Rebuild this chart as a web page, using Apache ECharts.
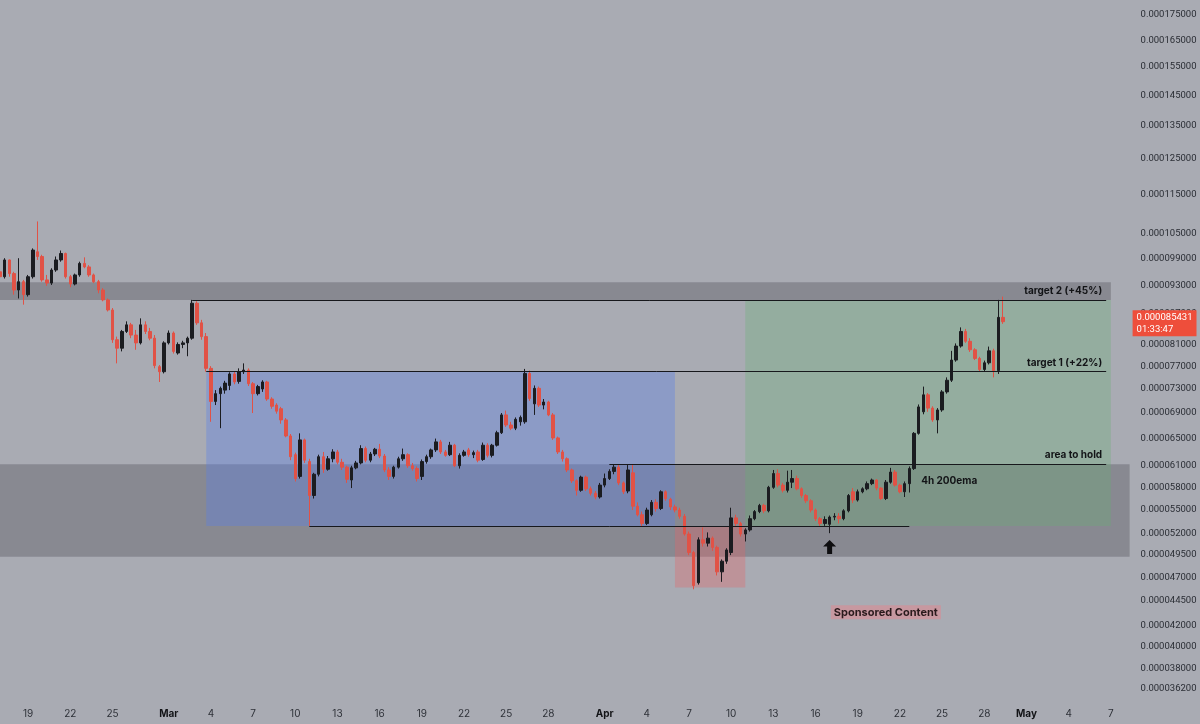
<!DOCTYPE html>
<html>
<head>
<meta charset="utf-8">
<script src="https://cdn.jsdelivr.net/npm/echarts@6/dist/echarts.min.js"></script>
<style>
html,body{margin:0;padding:0;background:#a9abb3;}
#chart{width:1200px;height:724px;}
</style>
</head>
<body>
<div id="chart"></div>
<script>
// ---- data (prices in units of 1e-6) ----
// 8-hour candles starting 2025-02-17 00:00 UTC : [open, close, low, high]
const candles = [
[96.0,94.9,94.5,96.8],[94.9,98.7,94.5,99.1],[98.7,95.6,94.9,98.8],[95.6,92.0,91.0,96.0],[92.0,93.8,90.2,99.1],
[93.8,91.0,88.9,94.2],[91.0,94.9,90.6,95.3],[94.9,101.0,94.5,101.4],[100.6,99.5,98.7,108.0],[99.5,94.2,93.8,99.9],
[94.2,93.5,92.9,95.3],[93.5,96.4,93.1,96.8],[96.4,98.7,96.0,99.5],[98.7,100.2,98.3,100.9],[100.2,94.9,94.5,100.4],
[94.9,93.3,92.6,95.3],[93.3,95.3,93.0,95.6],[95.3,97.9,94.9,98.3],[97.9,97.1,96.8,99.3],[97.1,95.3,94.9,97.5],
[95.3,93.8,93.5,95.6],[93.8,92.0,91.3,94.2],[92.0,89.9,89.6,92.4],[89.9,87.8,87.5,90.2],[87.8,81.9,81.3,88.2],
[81.9,80.3,77.5,82.5],[80.3,83.5,79.7,83.8],[83.5,84.8,83.2,85.5],[84.8,82.8,82.2,85.2],[82.8,81.3,80.0,83.8],
[81.3,84.8,81.0,86.1],[84.8,83.5,83.0,85.5],[83.5,82.2,81.8,84.2],[82.2,77.1,76.6,82.8],[76.9,76.0,74.2,77.2],
[76.0,81.3,75.7,81.6],[81.3,83.2,81.0,83.7],[83.2,79.7,79.3,83.5],[79.4,81.0,79.1,81.4],[81.0,81.3,80.3,81.7],
[81.3,82.2,78.8,82.5],[82.2,89.2,81.9,89.9],[89.2,85.2,84.8,89.6],[85.2,82.5,81.9,85.8],[82.5,76.6,76.0,83.2],
[76.6,70.9,67.6,77.0],[70.9,72.2,70.3,72.8],[72.2,73.1,66.6,73.4],[72.8,74.0,72.2,74.4],[73.6,75.6,72.8,75.9],
[75.6,74.2,73.8,76.0],[74.3,76.0,73.9,76.6],[76.0,76.3,75.6,77.5],[76.3,73.9,73.5,76.6],[73.9,72.2,69.0,74.2],
[72.2,73.4,71.9,73.7],[73.0,74.2,72.5,74.5],[74.2,71.3,71.0,74.4],[71.3,70.1,69.7,71.6],[70.3,69.3,68.9,70.6],
[69.7,67.9,67.3,70.0],[67.9,65.4,65.2,68.2],[65.4,62.3,61.8,65.7],[62.6,59.2,58.8,62.9],[59.5,64.8,59.2,65.8],
[64.8,61.8,61.4,65.0],[61.6,56.9,53.0,62.0],[56.9,59.8,56.5,60.0],[59.8,62.3,59.5,62.6],[62.3,60.5,60.0,63.0],
[60.5,62.0,60.3,62.4],[62.0,63.0,61.5,63.4],[63.0,61.5,61.2,63.3],[61.5,60.8,60.4,62.0],[60.8,59.1,58.6,61.0],
[59.0,60.7,57.9,61.0],[60.7,61.4,60.5,61.7],[61.4,63.5,61.2,64.0],[63.5,61.8,61.5,63.8],[61.8,62.7,61.5,63.0],
[62.7,63.4,62.4,63.6],[63.4,62.4,62.1,64.2],[62.4,60.4,60.1,62.7],[60.4,59.5,59.0,60.8],[59.5,60.8,59.2,61.0],
[60.8,62.0,60.6,62.3],[62.0,62.6,61.7,63.5],[62.6,61.0,60.7,62.8],[61.0,60.6,60.3,61.4],[60.6,59.2,58.8,60.9],
[59.5,61.6,59.0,61.9],[61.6,62.3,61.3,62.6],[62.3,63.3,62.0,63.5],[63.3,64.5,63.0,65.0],[64.5,63.0,62.7,64.8],
[63.0,62.5,62.3,63.3],[62.6,64.0,62.4,64.5],[64.0,61.0,60.8,64.2],[61.0,62.5,60.6,62.8],[62.5,63.0,62.3,63.3],
[63.3,62.6,62.3,63.6],[62.6,62.9,62.1,63.2],[63.0,61.8,61.5,63.3],[61.9,64.0,61.7,64.4],[64.0,62.5,62.2,64.3],
[62.5,64.0,62.2,64.2],[64.0,65.9,63.8,66.2],[65.9,68.7,65.7,69.0],[68.7,67.1,66.8,69.4],[67.1,66.6,66.3,67.6],
[66.6,68.0,66.3,68.3],[67.6,68.3,67.0,68.6],[67.6,75.7,67.3,76.5],[75.7,71.4,71.0,76.2],[70.5,73.1,68.7,73.6],
[73.1,70.3,70.0,73.4],[70.3,70.8,69.6,71.3],[70.8,68.7,68.5,71.0],[68.7,65.1,64.8,69.0],[65.1,63.0,62.7,65.3],
[63.0,62.0,61.6,63.3],[62.0,60.4,60.1,62.2],[60.4,58.9,58.6,60.6],[58.9,57.6,56.9,59.1],[57.6,59.4,57.4,59.6],
[59.4,57.8,57.5,59.6],[57.8,57.2,56.9,58.1],[57.2,56.7,56.4,57.5],[56.7,58.3,56.5,58.6],[58.3,59.2,58.0,59.9],
[59.2,60.2,59.0,60.5],[60.2,60.8,59.8,61.2],[60.8,58.6,58.3,61.2],[58.6,57.4,57.1,58.8],[57.5,60.4,57.2,61.1],
[60.0,55.5,55.0,61.1],[55.5,54.4,54.2,56.0],[54.4,53.3,53.0,54.8],[53.3,55.0,53.1,55.3],[54.4,56.0,54.2,56.3],
[56.0,55.2,54.8,56.4],[55.2,57.4,55.0,57.6],[57.4,56.5,56.2,57.6],[56.4,55.4,55.0,56.6],[55.4,55.0,54.7,55.7],
[55.0,54.2,53.9,55.3],[54.2,52.0,51.8,54.5],[52.0,49.8,49.5,52.3],[49.8,46.1,45.7,50.0],[46.4,51.3,46.2,51.6],
[51.3,50.9,50.5,52.8],[50.9,51.5,50.5,52.2],[51.5,50.4,50.0,51.7],[50.4,47.6,47.2,50.6],[47.6,48.8,46.5,49.0],
[48.8,50.1,48.5,50.3],[49.8,54.0,49.5,55.3],[54.0,53.3,52.9,54.4],[53.3,52.0,51.7,53.5],[52.0,52.5,51.1,52.7],
[52.5,53.9,52.3,54.3],[53.9,54.8,53.7,55.0],[54.8,55.6,54.6,55.8],[55.6,54.9,54.6,55.8],[54.9,58.0,54.7,58.2],
[58.0,59.9,57.8,60.4],[59.9,58.3,58.0,60.5],[58.3,57.6,57.3,58.6],[57.6,58.7,57.3,60.3],[58.7,59.2,57.9,60.4],
[59.2,57.8,57.6,59.6],[57.8,56.9,56.6,58.0],[56.9,56.2,55.9,57.1],[56.2,55.0,54.7,56.4],[55.0,53.9,53.6,55.2],
[53.9,53.3,53.0,54.1],[53.3,53.8,53.0,54.2],[53.2,54.1,52.1,54.3],[54.1,54.2,53.7,54.6],[54.2,53.9,53.3,54.6],
[53.9,54.9,53.7,55.1],[54.9,56.9,54.7,57.1],[57.4,56.3,55.9,57.9],[56.3,57.4,56.1,57.7],[57.4,57.8,57.2,58.0],
[57.8,58.5,57.6,58.8],[58.5,59.0,58.3,59.2],[59.0,57.9,57.6,59.1],[57.9,56.5,56.3,58.0],[56.5,58.7,56.3,59.0],
[58.7,60.1,58.5,60.7],[60.1,58.3,58.1,60.4],[58.3,57.4,57.2,58.5],[57.4,58.5,56.7,58.8],[58.5,60.6,57.3,60.9],
[60.6,65.8,60.4,66.0],[65.8,70.0,65.6,70.4],[69.2,72.0,68.8,73.4],[72.0,69.8,69.2,72.3],[69.8,67.9,67.6,70.1],
[67.9,69.5,65.8,69.8],[69.5,72.5,69.2,72.8],[72.5,74.5,72.2,75.0],[74.5,78.1,74.2,79.8],[78.1,80.7,77.8,81.2],
[80.7,83.5,80.4,84.3],[83.5,81.6,81.3,84.0],[81.6,80.0,79.6,82.2],[80.0,78.4,78.1,80.3],[78.4,76.4,76.1,78.7],
[76.4,77.6,76.1,78.0],[77.6,79.8,77.3,80.6],[79.8,76.2,75.0,80.2],[76.2,86.3,75.6,89.9],[86.3,85.431,85.0,90.6]
];

// y tick labels (right price scale)
const yTickLabels = ['0.000175000','0.000165000','0.000155000','0.000145000','0.000135000','0.000125000',
  '0.000115000','0.000105000','0.000099000','0.000093000','0.000087000','0.000081000','0.000077000',
  '0.000073000','0.000069000','0.000065000','0.000061000','0.000058000','0.000055000','0.000052000',
  '0.000049500','0.000047000','0.000044500','0.000042000','0.000040000','0.000038000','0.000036200'];

// x tick labels
const xTickDays = ['2025-02-19','2025-02-22','2025-02-25','2025-03-01','2025-03-04','2025-03-07','2025-03-10',
  '2025-03-13','2025-03-16','2025-03-19','2025-03-22','2025-03-25','2025-03-28','2025-04-01','2025-04-04',
  '2025-04-07','2025-04-10','2025-04-13','2025-04-16','2025-04-19','2025-04-22','2025-04-25','2025-04-28',
  '2025-05-01','2025-05-04','2025-05-07'];
const xTickLabels = ['19','22','25','Mar','4','7','10','13','16','19','22','25','28','Apr','4','7','10','13',
  '16','19','22','25','28','May','4','7'];

// annotation levels (units of 1e-6) and slot indices
const levels = { target2Top: 93.7, target2: 89.9, target1: 76.0, hold: 61.2, support: 53.0,
  holdBandBottom: 49.3, dipBottom: 45.9, lastPrice: 85.431, ema: 58.9, arrow: 50.45, sponsor: 43.3 };
const slots = { t2Start: 41, rangeStart: 44, supportStart: 66, holdStart: 130, rangeEnd: 144,
  dipEnd: 159, ema: 196, arrow: 177, supportEnd: 194, sponsor: 189, lineEnd: 236, zoneEnd: 237 };
const countdown = '01:33:47';

// ---- build ----
const NSLOTS = 242;
const startMs = Date.UTC(2025, 1, 17);
const categories = [];
for (let i = 0; i < NSLOTS; i++) {
  categories.push(new Date(startMs + i * 8 * 3600e3).toISOString().slice(0, 13));
}
const tickMap = new Map();
xTickDays.forEach((d, k) => tickMap.set(d + 'T00', xTickLabels[k]));

const toAxis = v => Math.log10(v);
const yTickValues = yTickLabels.map(s => toAxis(parseFloat(s) * 1e6));
const seriesData = candles.map(c => c.map(toAxis));

const FONT = 'Inter, "Noto Sans", sans-serif';
const AXFONT = 'Roboto, "Liberation Sans", sans-serif';
const UP = '#1b1c20', DOWN = '#e15246';

function hLine(a, b, lvl, text) {
  const first = { coord: [a, toAxis(lvl)] };
  if (text) {
    first.label = { show: true, position: 'insideEndTop', formatter: text, distance: 4,
      color: '#131417', fontWeight: 'bold', fontSize: 10, fontFamily: FONT };
  }
  return [first, { coord: [b, toAxis(lvl)] }];
}
function box(x1, y1, x2, y2, color) {
  return [{ coord: [x1, toAxis(y1)], itemStyle: { color } }, { coord: [x2, toAxis(y2)] }];
}

const chart = echarts.init(document.getElementById('chart'), null, { renderer: 'canvas' });
chart.setOption({
  backgroundColor: '#a9abb3',
  animation: false,
  grid: { left: 0, top: 0, width: 1129.6, height: 705, containLabel: false, outerBoundsMode: 'none' },
  xAxis: {
    type: 'category', data: categories, boundaryGap: false,
    axisLine: { show: false }, axisTick: { show: false }, splitLine: { show: false },
    axisLabel: {
      margin: 4, fontSize: 10, color: '#2e3138', fontFamily: FONT,
      interval: (idx, val) => tickMap.has(val),
      formatter: val => { const t = tickMap.get(val) || ''; return /^[A-Z]/.test(t) ? '{m|' + t + '}' : t; },
      rich: { m: { fontWeight: 'bold', color: '#131417', fontSize: 10, fontFamily: FONT } }
    }
  },
  yAxis: {
    type: 'value', position: 'right', scale: true,
    min: 1.542388, max: 2.258270,
    axisLine: { show: false }, axisTick: { show: false }, splitLine: { show: false },
    axisLabel: {
      customValues: yTickValues, margin: 11, fontSize: 9.5, color: '#2a2d34', fontFamily: AXFONT,
      formatter: v => {
        let best = 0, bd = Infinity;
        yTickValues.forEach((t, k) => { const d = Math.abs(t - v); if (d < bd) { bd = d; best = k; } });
        return yTickLabels[best];
      }
    }
  },
  series: [{
    type: 'candlestick',
    data: seriesData,
    clip: false,
    barWidth: 3,
    itemStyle: { color: UP, color0: DOWN, borderColor: UP, borderColor0: DOWN, borderWidth: 1 },
    markArea: {
      silent: true,
      data: [
        box(0, levels.target2, slots.zoneEnd, levels.target2Top, 'rgba(60,60,66,0.30)'),
        [{ yAxis: toAxis(levels.hold), itemStyle: { color: 'rgba(60,60,66,0.30)' } }, { yAxis: toAxis(levels.holdBandBottom) }],
        box(slots.rangeStart, levels.target1, slots.rangeEnd, levels.support, 'rgba(90,128,232,0.36)'),
        box(slots.rangeEnd, levels.support, slots.dipEnd, levels.dipBottom, 'rgba(232,96,100,0.32)'),
        box(slots.dipEnd, levels.target2, slots.zoneEnd, levels.support, 'rgba(100,180,112,0.30)')
      ]
    },
    markLine: {
      silent: true, symbol: ['none', 'none'],
      lineStyle: { color: '#17181c', width: 1, type: 'solid' },
      label: { show: false },
      data: [
        hLine(slots.t2Start, slots.lineEnd, levels.target2, 'target 2 (+45%)'),
        hLine(slots.rangeStart, slots.lineEnd, levels.target1, 'target 1 (+22%)'),
        hLine(slots.holdStart, slots.lineEnd, levels.hold, 'area to hold'),
        hLine(slots.supportStart, slots.supportEnd, levels.support, null),
        { yAxis: toAxis(levels.lastPrice), lineStyle: { color: 'rgba(0,0,0,0)', width: 0, opacity: 1 },
          label: { show: true, position: 'end', distance: 3, opacity: 1,
            formatter: (levels.lastPrice / 1e6).toFixed(9) + '\n' + countdown,
            backgroundColor: '#ee4e3b', color: '#ffffff', fontSize: 9.5, lineHeight: 12,
            padding: [1, 4, 1, 4], fontFamily: AXFONT } }
      ]
    },
    markPoint: {
      silent: true,
      data: [
        { coord: [slots.arrow, toAxis(levels.arrow)],
          symbol: 'path://M6.5,0 L13,6.5 L9,6.5 L9,14 L4,14 L4,6.5 L0,6.5 Z',
          symbolSize: [13, 14], itemStyle: { color: '#0e0e10' }, label: { show: false } },
        { coord: [slots.ema, toAxis(levels.ema)], symbol: 'rect', symbolSize: 1,
          itemStyle: { color: 'rgba(0,0,0,0)' },
          label: { show: true, position: 'right', distance: 2, formatter: '4h 200ema',
            color: '#131417', fontWeight: 'bold', fontSize: 10, fontFamily: FONT } },
        { coord: [slots.sponsor, toAxis(levels.sponsor)], symbol: 'rect', symbolSize: 1,
          itemStyle: { color: 'rgba(0,0,0,0)' },
          label: { show: true, position: 'inside', formatter: 'Sponsored Content',
            color: '#2a1a1c', fontWeight: 'bold', fontSize: 11, fontFamily: FONT,
            backgroundColor: 'rgba(236,128,138,0.45)', padding: [2, 3, 1, 3] } }
      ]
    }
  }]
});
</script>
</body>
</html>
